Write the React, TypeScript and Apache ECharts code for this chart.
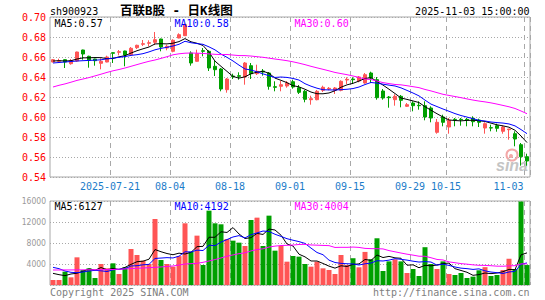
import React, { useEffect, useRef } from 'react';
import * as echarts from 'echarts';

const dates = [
  '2025-07-07','2025-07-08','2025-07-09','2025-07-10','2025-07-11','2025-07-14','2025-07-15','2025-07-16','2025-07-17','2025-07-18',
  '2025-07-21','2025-07-22','2025-07-23','2025-07-24','2025-07-25','2025-07-28','2025-07-29','2025-07-30','2025-07-31','2025-08-01',
  '2025-08-04','2025-08-05','2025-08-06','2025-08-07','2025-08-08','2025-08-11','2025-08-12','2025-08-13','2025-08-14','2025-08-15',
  '2025-08-18','2025-08-19','2025-08-20','2025-08-21','2025-08-22','2025-08-25','2025-08-26','2025-08-27','2025-08-28','2025-08-29',
  '2025-09-01','2025-09-02','2025-09-03','2025-09-04','2025-09-05','2025-09-08','2025-09-09','2025-09-10','2025-09-11','2025-09-12',
  '2025-09-15','2025-09-16','2025-09-17','2025-09-18','2025-09-19','2025-09-22','2025-09-23','2025-09-24','2025-09-25','2025-09-26',
  '2025-09-29','2025-09-30','2025-10-09','2025-10-10','2025-10-13','2025-10-14','2025-10-15','2025-10-16','2025-10-17','2025-10-20',
  '2025-10-21','2025-10-22','2025-10-23','2025-10-24','2025-10-27','2025-10-28','2025-10-29','2025-10-30','2025-10-31','2025-11-03',
];

const opens = [
  0.6550,0.6557,0.6573,0.6533,0.6560,0.6670,0.6607,0.6580,0.6537,0.6550,
  0.6643,0.6647,0.6660,0.6623,0.6693,0.6727,0.6737,0.6747,0.6780,0.6690,
  0.6657,0.6790,0.6813,0.6640,0.6557,0.6663,0.6657,0.6507,0.6480,0.6273,
  0.6410,0.6413,0.6400,0.6513,0.6433,0.6460,0.6440,0.6303,0.6307,0.6310,
  0.6353,0.6293,0.6257,0.6173,0.6173,0.6267,0.6280,0.6267,0.6267,0.6370,
  0.6380,0.6360,0.6340,0.6440,0.6373,0.6260,0.6200,0.6173,0.6207,0.6107,
  0.6140,0.6117,0.6113,0.6090,0.5847,0.6000,0.5900,0.5977,0.5977,0.5977,
  0.5987,0.5970,0.5890,0.5893,0.5913,0.5857,0.5873,0.5833,0.5723,0.5603,
];
const closes = [
  0.6573,0.6563,0.6550,0.6563,0.6650,0.6630,0.6567,0.6563,0.6557,0.6600,
  0.6637,0.6653,0.6620,0.6687,0.6717,0.6733,0.6743,0.6773,0.6700,0.6707,
  0.6767,0.6823,0.6923,0.6540,0.6633,0.6657,0.6490,0.6473,0.6280,0.6380,
  0.6403,0.6407,0.6540,0.6433,0.6457,0.6450,0.6307,0.6297,0.6323,0.6340,
  0.6300,0.6247,0.6177,0.6183,0.6257,0.6297,0.6287,0.6290,0.6357,0.6377,
  0.6373,0.6400,0.6423,0.6390,0.6193,0.6190,0.6193,0.6207,0.6167,0.6123,
  0.6113,0.6113,0.6000,0.5990,0.5947,0.5947,0.5967,0.5973,0.5973,0.5970,
  0.5953,0.5947,0.5933,0.5890,0.5887,0.5900,0.5880,0.5780,0.5603,0.5560,
];
const lows = [
  0.6547,0.6540,0.6490,0.6523,0.6553,0.6573,0.6493,0.6513,0.6477,0.6547,
  0.6540,0.6617,0.6507,0.6617,0.6680,0.6710,0.6707,0.6720,0.6657,0.6667,
  0.6647,0.6787,0.6810,0.6513,0.6553,0.6607,0.6460,0.6410,0.6257,0.6243,
  0.6380,0.6373,0.6323,0.6380,0.6420,0.6413,0.6273,0.6257,0.6257,0.6293,
  0.6283,0.6230,0.6147,0.6123,0.6167,0.6250,0.6267,0.6230,0.6257,0.6330,
  0.6330,0.6347,0.6333,0.6340,0.6173,0.6173,0.6093,0.6113,0.6097,0.6100,
  0.6057,0.6073,0.5967,0.5947,0.5833,0.5907,0.5833,0.5907,0.5913,0.5907,
  0.5907,0.5900,0.5833,0.5857,0.5853,0.5833,0.5773,0.5707,0.5513,0.5513,
];
const highs = [
  0.6580,0.6583,0.6577,0.6580,0.6653,0.6673,0.6613,0.6583,0.6587,0.6613,
  0.6647,0.6670,0.6663,0.6700,0.6723,0.6770,0.6767,0.6850,0.6783,0.6723,
  0.6777,0.6837,0.6937,0.6657,0.6673,0.6690,0.6667,0.6560,0.6490,0.6390,
  0.6433,0.6447,0.6550,0.6540,0.6523,0.6480,0.6450,0.6357,0.6360,0.6360,
  0.6373,0.6320,0.6270,0.6213,0.6270,0.6313,0.6300,0.6300,0.6367,0.6397,
  0.6397,0.6410,0.6440,0.6453,0.6400,0.6280,0.6210,0.6227,0.6220,0.6140,
  0.6157,0.6157,0.6157,0.6107,0.5980,0.6023,0.5990,0.5990,0.5990,0.5990,
  0.6007,0.5983,0.5947,0.5923,0.5933,0.5913,0.5880,0.5857,0.5740,0.5633,
];
const volumes = [
  950,950,2540,1460,5270,2860,3175,1330,4000,3175,
  4130,2100,3370,6860,5715,4635,4000,12570,4760,4000,
  3490,5500,11750,6350,9400,3810,14160,11750,11560,8760,
  8445,8065,7430,12380,12830,7430,13210,6540,7430,4445,
  5525,5400,4000,3490,4445,3175,2860,2100,5715,3810,
  5100,3370,6300,4900,8900,2667,4500,4890,4500,2286,
  3048,1715,7200,4000,3048,4500,2100,1905,2286,1333,
  1590,2800,3400,1715,1905,2858,5000,3048,15900,3800,
];

// moving-average values at the left edge (their windows start before the chart)
const ma5Lead = [0.6560, 0.6563, 0.6560, 0.6563];
const ma10Lead = [0.6540, 0.6545, 0.6550, 0.6555, 0.6560, 0.6563, 0.6566, 0.6568, 0.6572];
const ma30Lead = [
  0.6300,0.6317,0.6331,0.6348,0.6366,0.6380,0.6394,0.6411,0.6428,0.6446,
  0.6462,0.6475,0.6490,0.6507,0.6524,0.6541,0.6557,0.6570,0.6586,0.6603,
  0.6622,0.6632,0.6638,0.6640,0.6638,0.6636,0.6631,0.6627,0.6624,
];
const volMa5Lead = [2220, 1970, 1780, 2100];
const volMa10Lead = [3365, 3110, 2667, 2413, 2350, 2477, 2667, 2794, 2700];
const volMa30Lead = [
  2860,2860,2870,2870,2880,2890,2900,2910,2920,2940,
  2960,3000,3060,3120,3180,3240,3300,3360,3440,3530,
  3620,3800,4000,4060,4130,4320,4570,4850,5150,
];

const labeledDates = ['2025-07-21','2025-08-04','2025-08-18','2025-09-01','2025-09-15','2025-09-29','2025-10-15','2025-11-03'];
const priceTicks = { min: 0.54, max: 0.70, step: 0.02 };
const volumeTicks = { min: 0, max: 16000, step: 4000 };
const priceMaTexts = ['MA5:0.57', 'MA10:0.58', 'MA30:0.60'];
const volMaTexts = ['MA5:6127', 'MA10:4192', 'MA30:4004'];
const headerTexts = { code: 'sh900923', title: '百联B股 - 日K线图', time: '2025-11-03 15:00:00' };
const footerTexts = { left: 'Copyright 2025 SINA.COM', right: 'http://finance.sina.com.cn' };

function movingAverage(values: number[], n: number, lead: number[]) {
  return values.map((_, i) => {
    if (i < n - 1) return lead[i];
    let s = 0;
    for (let k = i - n + 1; k <= i; k++) s += values[k];
    return s / n;
  });
}

const MONO = "'DejaVu Sans Mono', monospace";
const UP = '#ff5555';
const DOWN = '#00a000';
const MA_COLORS = ['#000000', '#0000ff', '#ff00ff'];
const GRID_COLOR = '#a8a8a8';

export default function App() {
  const ref = useRef<HTMLDivElement>(null);

  useEffect(() => {
    document.body.style.margin = '0';
    const chart = echarts.init(ref.current!, undefined, { renderer: 'svg', width: 545, height: 300 });
    const labelSet = new Set(labeledDates);
    const isLabeled = (_i: number, v: string) => labelSet.has(v);

    const candleData = dates.map((_, i) => [opens[i], closes[i], lows[i], highs[i]]);
    const volData = volumes.map((v, i) => ({
      value: v,
      itemStyle: { color: closes[i] >= opens[i] ? UP : DOWN },
    }));

    const priceMAs = [
      movingAverage(closes, 5, ma5Lead),
      movingAverage(closes, 10, ma10Lead),
      movingAverage(closes, 30, ma30Lead),
    ];
    const volMAs = [
      movingAverage(volumes, 5, volMa5Lead),
      movingAverage(volumes, 10, volMa10Lead),
      movingAverage(volumes, 30, volMa30Lead),
    ];

    const splitLineX = {
      show: true,
      interval: isLabeled,
      lineStyle: { color: GRID_COLOR, type: [5, 4], width: 1 },
    };

    const lineSeries = (data: number[], color: string, xi: number) => ({
      type: 'line',
      xAxisIndex: xi,
      yAxisIndex: xi,
      data,
      showSymbol: false,
      symbol: 'none',
      silent: true,
      lineStyle: { color, width: 1 },
      z: 3,
    });

    const textEl = (text: string, x: number, y: number, color: string, font: string, align: string, z = 10) => ({
      type: 'text',
      x,
      y,
      z,
      silent: true,
      style: {
        text,
        fill: color,
        font,
        align,
        verticalAlign: 'middle',
        textAlign: align,
        textVerticalAlign: 'middle',
      },
    });

    const option: any = {
      animation: false,
      backgroundColor: '#ffffff',
      grid: [
        { left: 50, top: 17, width: 480, height: 160, show: true, borderColor: GRID_COLOR, borderWidth: 1 },
        { left: 50, top: 201, width: 480, height: 84, show: true, borderColor: GRID_COLOR, borderWidth: 1 },
      ],
      xAxis: [
        {
          type: 'category',
          gridIndex: 0,
          data: dates,
          boundaryGap: true,
          axisLine: { show: false },
          axisTick: { show: false },
          axisLabel: {
            interval: isLabeled,
            margin: 4,
            fontFamily: MONO,
            fontSize: 10,
            color: '#1c7cc9',
            formatter: (v: string) => {
              if (v === labeledDates[0]) return `{c|${v}}`;
              if (v === labeledDates[labeledDates.length - 1]) return `{e|${v.slice(5)}}`;
              return `{c|${v.slice(5)}}`;
            },
            rich: {
              c: { fontFamily: MONO, fontSize: 10, color: '#1c7cc9', padding: [0, 6, 0, 0] },
              e: { fontFamily: MONO, fontSize: 10, color: '#1c7cc9', padding: [0, 37, 0, 0] },
            },
          },
          splitLine: splitLineX,
        },
        {
          type: 'category',
          gridIndex: 1,
          data: dates,
          boundaryGap: true,
          axisLine: { show: false },
          axisTick: { show: false },
          axisLabel: { show: false },
          splitLine: splitLineX,
        },
      ],
      yAxis: [
        {
          type: 'value',
          gridIndex: 0,
          min: priceTicks.min,
          max: priceTicks.max,
          interval: priceTicks.step,
          axisLine: { show: false },
          axisTick: { show: false },
          axisLabel: {
            margin: 4,
            fontFamily: MONO,
            fontSize: 10,
            color: '#ff0000',
            formatter: (v: number) => v.toFixed(2),
          },
          splitLine: { show: true, lineStyle: { color: GRID_COLOR, type: [1, 2], width: 1 } },
        },
        {
          type: 'value',
          gridIndex: 1,
          min: volumeTicks.min,
          max: volumeTicks.max,
          interval: volumeTicks.step,
          axisLine: { show: false },
          axisTick: { show: false },
          axisLabel: {
            margin: 4,
            fontFamily: "'Liberation Sans Narrow', 'DejaVu Sans Condensed', sans-serif",
            fontSize: 8.5,
            color: '#999999',
            formatter: (v: number) => (v === 0 ? '' : String(v)),
          },
          splitLine: { show: true, lineStyle: { color: GRID_COLOR, type: [1, 2], width: 1 } },
        },
      ],
      series: [
        {
          type: 'candlestick',
          xAxisIndex: 0,
          yAxisIndex: 0,
          data: candleData,
          barWidth: 4,
          silent: true,
          itemStyle: { color: UP, color0: DOWN, borderColor: UP, borderColor0: DOWN, borderWidth: 1 },
          z: 2,
        },
        ...priceMAs.map((d, k) => lineSeries(d, MA_COLORS[k], 0)),
        {
          type: 'bar',
          xAxisIndex: 1,
          yAxisIndex: 1,
          data: volData,
          barWidth: 5,
          silent: true,
          z: 2,
        },
        ...volMAs.map((d, k) => lineSeries(d, MA_COLORS[k], 1)),
      ],
      graphic: [
        textEl(headerTexts.code, 50, 11, '#000', `10px ${MONO}`, 'left'),
        textEl(headerTexts.title, 120, 10.5, '#000', `bold 12.5px 'DejaVu Sans Mono', 'Noto Sans CJK SC', sans-serif`, 'left'),
        textEl(headerTexts.time, 529.5, 11, '#000', `10px ${MONO}`, 'right'),
        textEl(priceMaTexts[0], 54.5, 23.5, MA_COLORS[0], `10px ${MONO}`, 'left'),
        textEl(priceMaTexts[1], 174.5, 23.5, MA_COLORS[1], `10px ${MONO}`, 'left'),
        textEl(priceMaTexts[2], 294.5, 23.5, MA_COLORS[2], `10px ${MONO}`, 'left'),
        textEl(volMaTexts[0], 54.5, 206, MA_COLORS[0], `10px ${MONO}`, 'left'),
        textEl(volMaTexts[1], 174.5, 206, MA_COLORS[1], `10px ${MONO}`, 'left'),
        textEl(volMaTexts[2], 294.5, 206, MA_COLORS[2], `10px ${MONO}`, 'left'),
        textEl(footerTexts.left, 50, 292.5, '#808080', `10px ${MONO}`, 'left'),
        textEl(footerTexts.right, 529.5, 292.5, '#808080', `10px ${MONO}`, 'right'),
        {
          type: 'circle', z: 1, silent: true,
          shape: { cx: 512, cy: 155, r: 5.5 },
          style: { fill: 'none', stroke: '#f3a8a8', lineWidth: 2 },
        },
        {
          type: 'circle', z: 1, silent: true,
          shape: { cx: 511, cy: 156, r: 2 },
          style: { fill: '#f3a8a8' },
        },
        textEl('sina', 512, 165, '#c4c4c4', `italic bold 16px 'Liberation Sans', sans-serif`, 'center', 1),
      ],
    };

    chart.setOption(option);
    return () => chart.dispose();
  }, []);

  return <div ref={ref} style={{ width: 545, height: 300, position: 'absolute', left: 0, top: 0 }} />;
}
